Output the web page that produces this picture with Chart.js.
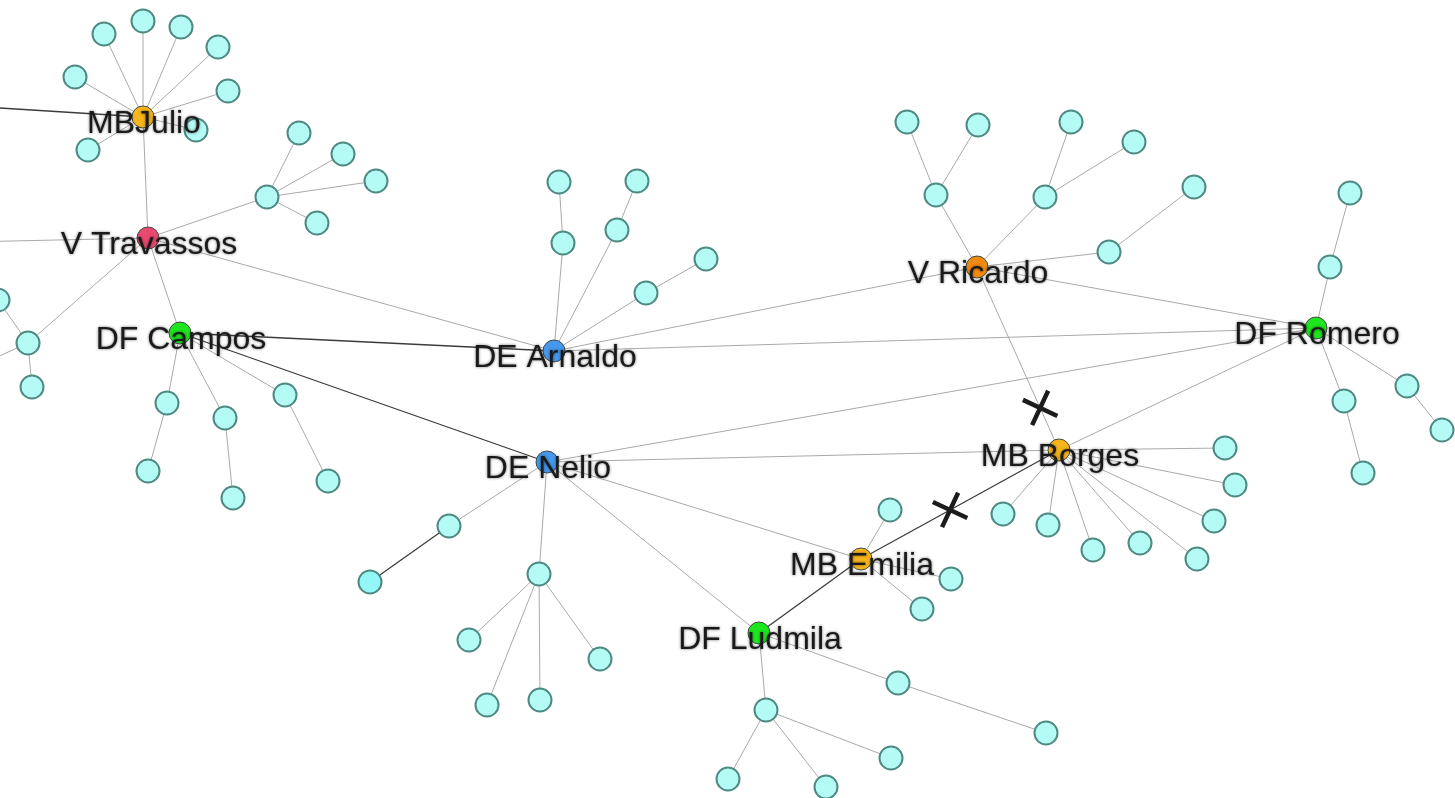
<!DOCTYPE html>
<html>
<head>
<meta charset="utf-8">
<script src="https://cdn.jsdelivr.net/npm/chart.js@4.4.0/dist/chart.umd.min.js"></script>
<style>
  html, body { margin: 0; padding: 0; background: #fff; overflow: hidden; }
</style>
</head>
<body>
<canvas id="net" width="1455" height="798"></canvas>
<script>
// named people in the network
const hubIds    = ["julio", "trav", "campos", "arnaldo", "nelio", "ricardo", "romero", "borges", "emilia", "ludmila"];
const hubLabels = ["MBJulio", "V Travassos", "DF Campos", "DE Arnaldo", "DE Nelio", "V Ricardo", "DF Romero", "MB Borges", "MB Emilia", "DF Ludmila"];
const hubX      = [143, 148, 180, 554, 547, 977, 1316, 1059, 861, 759];
const hubY      = [117, 238, 333, 351, 462, 267, 328, 450, 559, 633];

// unnamed contacts
const leafIds = ["j1","j2","j3","j4","j5","j6","j7","j8",
                 "t1","t2","t3","t4","t5",
                 "l1","l2","l3",
                 "c1","c2","c3","c4","c5","c6",
                 "a1","a2","a3","a4","a5","a6",
                 "r1","r2","r3","r4","r5","r6","r7","r8",
                 "o1","o2","o3","o4","o5","o6",
                 "b1","b2","b3","b4","b5","b6","b7","b8",
                 "e1","e2","e3",
                 "d1","d2","d3","d4","d5","d6",
                 "n1","n2","n3","n4","n5","n6","n7"];
const leafX = [104,143,181,218,75,228,88,196,
               267,299,343,376,317,
               28,32,-2,
               167,148,225,233,285,328,
               563,559,617,637,646,706,
               936,907,978,1045,1071,1134,1109,1194,
               1330,1350,1344,1363,1407,1442,
               1225,1235,1214,1197,1140,1093,1048,1003,
               890,951,922,
               898,1046,766,891,728,826,
               449,370,539,469,487,540,600];
const leafY = [34,21,27,47,77,91,150,130,
               197,133,154,181,223,
               343,387,300,
               403,471,418,498,395,481,
               243,182,230,181,293,259,
               195,122,125,197,122,142,252,187,
               267,193,401,473,386,430,
               448,485,521,559,543,550,525,514,
               510,579,609,
               683,733,710,758,779,787,
               526,582,574,640,705,700,659];

// contacts outside the visible frame
const outsideIds = ["x1", "x2", "x3"];
const outsideX   = [-80, -80, -80];
const outsideY   = [103, 243, 392];

const edges = [
  ["julio","j1"],["julio","j2"],["julio","j3"],["julio","j4"],["julio","j5"],["julio","j6"],["julio","j7"],["julio","j8"],
  ["julio","trav"],["julio","x1"],
  ["trav","t1"],["trav","campos"],["trav","arnaldo"],["trav","l1"],["trav","x2"],
  ["t1","t2"],["t1","t3"],["t1","t4"],["t1","t5"],
  ["l1","l2"],["l1","l3"],["l1","x3"],
  ["campos","c1"],["campos","c3"],["campos","c5"],["campos","arnaldo"],["campos","nelio"],
  ["c1","c2"],["c3","c4"],["c5","c6"],
  ["arnaldo","a1"],["arnaldo","a3"],["arnaldo","a5"],["arnaldo","ricardo"],["arnaldo","romero"],
  ["a1","a2"],["a3","a4"],["a5","a6"],
  ["ricardo","r1"],["ricardo","r4"],["ricardo","r7"],["ricardo","romero"],["ricardo","borges"],
  ["r1","r2"],["r1","r3"],["r4","r5"],["r4","r6"],["r7","r8"],
  ["romero","o1"],["romero","o3"],["romero","o5"],["romero","nelio"],["romero","borges"],
  ["o1","o2"],["o3","o4"],["o5","o6"],
  ["borges","b1"],["borges","b2"],["borges","b3"],["borges","b4"],["borges","b5"],["borges","b6"],["borges","b7"],["borges","b8"],
  ["borges","nelio"],["borges","emilia"],
  ["emilia","e1"],["emilia","e2"],["emilia","e3"],["emilia","nelio"],["emilia","ludmila"],
  ["ludmila","d1"],["ludmila","d3"],["ludmila","nelio"],
  ["d1","d2"],["d3","d4"],["d3","d5"],["d3","d6"],
  ["nelio","n1"],["nelio","n3"],
  ["n1","n2"],["n3","n4"],["n3","n5"],["n3","n6"],["n3","n7"]
];
const strongEdges = [["julio","x1"],["campos","arnaldo"],["campos","nelio"],["n1","n2"],["borges","emilia"],["emilia","ludmila"]];

// links that were cut, with where along the link the mark sits
const cutEdges = [["ricardo","borges",0.77],["emilia","borges",0.45]];

// ---- styles ----
const hubColors = {
  julio: "#f8b61c", trav: "#e9496f", campos: "#1ee61e", arnaldo: "#4598ee", nelio: "#4598ee",
  ricardo: "#f28a12", romero: "#1ee61e", borges: "#f8b61c", emilia: "#f8b61c", ludmila: "#1ee61e"
};

const pos = {};
hubIds.forEach((id, i) => pos[id] = { x: hubX[i], y: hubY[i] });
leafIds.forEach((id, i) => pos[id] = { x: leafX[i], y: leafY[i] });
outsideIds.forEach((id, i) => pos[id] = { x: outsideX[i], y: outsideY[i] });

const isStrong = (a, b) => strongEdges.some(e => (e[0] === a && e[1] === b) || (e[0] === b && e[1] === a));

const datasets = [];

// crosses on top
datasets.push({
  data: cutEdges.map(c => {
    const p = pos[c[0]], q = pos[c[1]], t = c[2];
    return { x: p.x + (q.x - p.x) * t, y: p.y + (q.y - p.y) * t };
  }),
  pointStyle: "cross",
  rotation: 25,
  pointRadius: 19,
  borderColor: "#1c1c1c",
  pointBorderWidth: 4.5,
  order: 0,
  clip: false
});

// hubs
datasets.push({
  data: hubIds.map(id => pos[id]),
  pointRadius: 11,
  pointBackgroundColor: hubIds.map(id => hubColors[id]),
  pointBorderColor: "#3e4a48",
  pointBorderWidth: 1,
  order: 1,
  clip: false
});

// contacts
datasets.push({
  data: leafIds.map(id => pos[id]),
  pointRadius: 11.5,
  pointBackgroundColor: leafIds.map(id => id === "n2" ? "#92f7f6" : "#b5fbf5"),
  pointBorderColor: "#4e8a82",
  pointBorderWidth: 2,
  order: 1,
  clip: false
});

// links
edges.forEach(e => {
  const strong = isStrong(e[0], e[1]);
  datasets.push({
    data: [pos[e[0]], pos[e[1]]],
    showLine: true,
    pointRadius: 0,
    borderColor: strong ? "#3c3c3c" : "#a9a9a9",
    borderWidth: strong ? 1.3 : 1,
    order: strong ? 2 : 3
  });
});

const labelPlugin = {
  id: "hubLabels",
  afterDatasetsDraw(chart) {
    const ctx = chart.ctx;
    const xs = chart.scales.x, ys = chart.scales.y;
    ctx.save();
    ctx.font = '32px "Liberation Sans", Arial, sans-serif';
    ctx.textAlign = "center";
    ctx.textBaseline = "alphabetic";
    ctx.fillStyle = "#1a1a1a";
    ctx.shadowColor = "rgba(0,0,0,0.55)";
    ctx.shadowBlur = 3;
    hubIds.forEach((id, i) => {
      ctx.fillText(hubLabels[i], xs.getPixelForValue(hubX[i]) + 1, ys.getPixelForValue(hubY[i]) + 16);
    });
    ctx.restore();
  }
};

new Chart(document.getElementById("net"), {
  type: "scatter",
  data: { datasets: datasets },
  options: {
    responsive: false,
    animation: false,
    events: [],
    layout: { padding: 0, autoPadding: false },
    plugins: { legend: { display: false }, tooltip: { enabled: false } },
    scales: {
      x: { type: "linear", min: 0, max: 1455, display: false },
      y: { type: "linear", min: 0, max: 798, reverse: true, display: false }
    }
  },
  plugins: [labelPlugin]
});
</script>
</body>
</html>
